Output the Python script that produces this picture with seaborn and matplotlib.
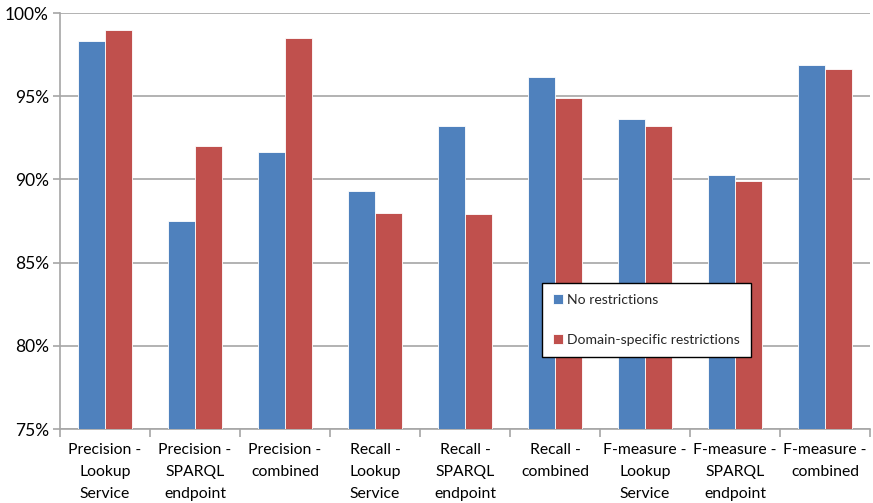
import matplotlib
matplotlib.use("Agg")
import matplotlib.pyplot as plt
from matplotlib.ticker import FixedLocator, FuncFormatter
import seaborn as sns
import pandas as pd
import numpy as np

categories = [
    "Precision -\nLookup\nService",
    "Precision -\nSPARQL\nendpoint",
    "Precision -\ncombined",
    "Recall -\nLookup\nService",
    "Recall -\nSPARQL\nendpoint",
    "Recall -\ncombined",
    "F-measure -\nLookup\nService",
    "F-measure -\nSPARQL\nendpoint",
    "F-measure -\ncombined",
]
series_names = ["No restrictions", "Domain-specific restrictions"]
no_restrictions = [98.3, 87.5, 91.65, 89.3, 93.2, 96.15, 93.6, 90.25, 96.85]
domain_specific = [99.0, 92.0, 98.5, 88.0, 87.9, 94.9, 93.2, 89.9, 96.65]
y_ticks = [75, 80, 85, 90, 95, 100]

df = pd.DataFrame({
    "category": categories * 2,
    "series": [series_names[0]] * len(categories) + [series_names[1]] * len(categories),
    "value": no_restrictions + domain_specific,
})

sns.set_style("white")
plt.rcParams["font.family"] = ["Lato", "DejaVu Sans"]

fig = plt.figure(figsize=(8.73, 5.03), dpi=100)
ax = fig.add_axes([60 / 873, 1 - 429 / 503, 810 / 873, 416 / 503])

sns.barplot(
    data=df, x="category", y="value", hue="series",
    palette=["#4F81BD", "#C0504D"], saturation=1, width=0.6, gap=0,
    edgecolor="white", linewidth=0.6, ax=ax, zorder=3,
)

ax.set_ylim(75, 100)
ax.set_xlim(-0.5, len(categories) - 0.5)
ax.set_yticks(y_ticks)
ax.yaxis.set_major_formatter(FuncFormatter(lambda v, p: f"{v:.0f}%"))
ax.grid(axis="y", color="#A6A6A6", linewidth=1.2, zorder=0)
ax.set_axisbelow(True)
ax.set_xlabel("")
ax.set_ylabel("")

for side in ["top", "right"]:
    ax.spines[side].set_visible(False)
for side in ["left", "bottom"]:
    ax.spines[side].set_color("#A6A6A6")
    ax.spines[side].set_linewidth(1.2)

ax.tick_params(axis="y", which="major", length=5, color="#A6A6A6",
               width=1.2, labelsize=12.5, pad=3, labelcolor="black", left=True)
ax.tick_params(axis="x", which="major", length=0, labelsize=11.3, pad=10,
               labelcolor="black")
ax.xaxis.set_minor_locator(FixedLocator(np.arange(-0.5, len(categories), 1.0)))
ax.tick_params(axis="x", which="minor", length=6, color="#A6A6A6",
               width=1.2, bottom=True)
for lbl in ax.get_xticklabels():
    lbl.set_ha("center")
    lbl.set_multialignment("center")
    lbl.set_linespacing(1.72)

handles, labels = ax.get_legend_handles_labels()
leg = ax.legend(
    handles, labels, loc="upper left",
    bbox_to_anchor=((542 - 60) / 810, (429 - 283) / 416),
    frameon=True, fancybox=False, edgecolor="black", framealpha=1,
    fontsize=10.1, handlelength=0.7, handleheight=0.7, handletextpad=0.3,
    labelspacing=1.95, borderpad=0.8, borderaxespad=0,
)
leg.get_frame().set_linewidth(1.0)
leg.set_zorder(5)

fig.savefig("out.png", dpi=100)
